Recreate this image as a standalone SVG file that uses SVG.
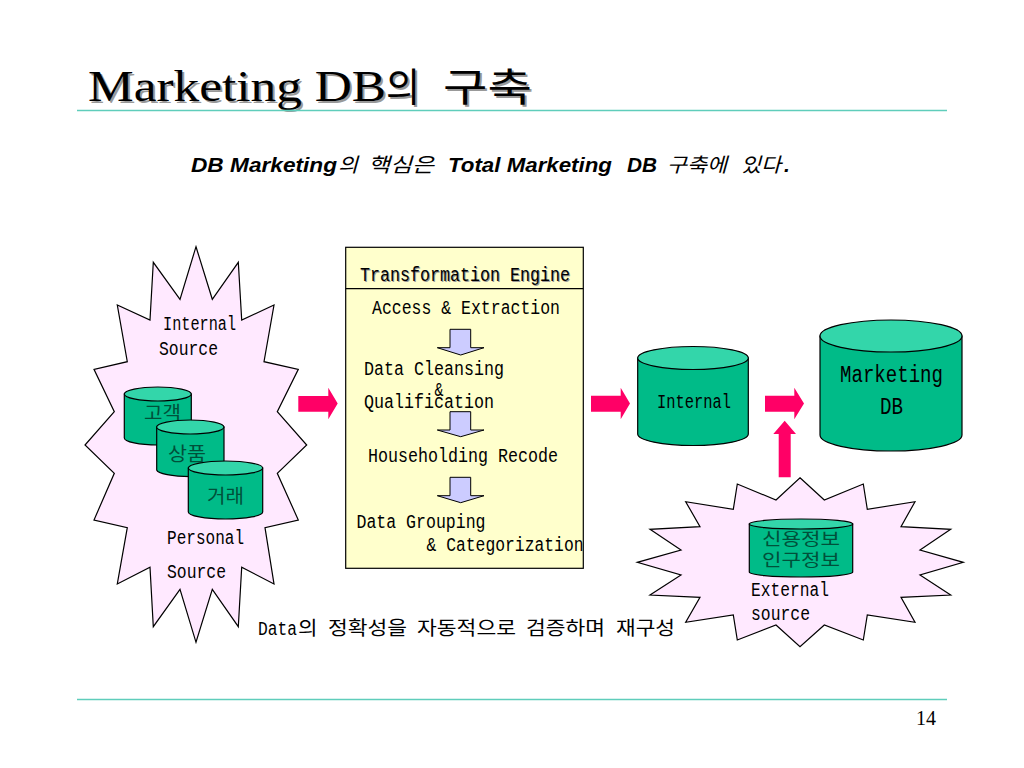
<svg xmlns="http://www.w3.org/2000/svg" width="1024" height="768" viewBox="0 0 1024 768">
<style>
.star{fill:#FFE9FF;stroke:#000;stroke-width:1.2}
.cyl{fill:#00BB88;stroke:#000;stroke-width:1.2}
.top{fill:#33D6AA;stroke:#000;stroke-width:1.2}
.pink{fill:#FF0066}
.down{fill:#CCCCFF;stroke:#000;stroke-width:1}
.rule{stroke:#5FCDBB;stroke-width:1.5}
text{font-family:"Liberation Mono","Noto Sans CJK KR",monospace;font-size:20px;fill:#000}
text.ko{font-family:"Noto Sans CJK KR",sans-serif;font-size:19px;font-weight:400}
text.lbl{font-size:23px}
.dk{fill:#00503A}
text.title{font-family:"Liberation Serif",serif;font-size:44px}
text.tko{font-family:"Noto Sans CJK KR",sans-serif;font-size:39px}
text.sub{font-family:"Liberation Sans",sans-serif;font-size:21px;font-weight:bold;font-style:italic}
text.subko{font-family:"Noto Sans CJK KR",sans-serif;font-size:20px;font-weight:400;font-style:italic}
text.sh{fill:#999}
</style>
<rect width="1024" height="768" fill="#fff"/>
<g id="title">
<text class="title sh" x="90" y="103" textLength="298" lengthAdjust="spacingAndGlyphs">Marketing DB</text>
<text class="tko sh" x="388" y="103" textLength="34" lengthAdjust="spacingAndGlyphs">의</text>
<text class="tko sh" x="445" y="103" textLength="89" lengthAdjust="spacingAndGlyphs">구축</text>
<text class="title" x="88" y="101" textLength="298" lengthAdjust="spacingAndGlyphs">Marketing DB</text>
<text class="tko" x="386" y="101" textLength="34" lengthAdjust="spacingAndGlyphs">의</text>
<text class="tko" x="443" y="101" textLength="89" lengthAdjust="spacingAndGlyphs">구축</text>
<line class="rule" x1="77" y1="110.5" x2="947" y2="110.5"/>
</g>
<g id="subtitle">
<text class="sub" x="191" y="172" textLength="146" lengthAdjust="spacingAndGlyphs">DB Marketing</text>
<text class="subko" x="338" y="172" textLength="20" lengthAdjust="spacingAndGlyphs">의</text>
<text class="subko" x="368" y="172" textLength="66" lengthAdjust="spacingAndGlyphs">핵심은</text>
<text class="sub" x="448" y="172" textLength="164" lengthAdjust="spacingAndGlyphs">Total Marketing</text>
<text class="sub" x="627" y="172" textLength="30" lengthAdjust="spacingAndGlyphs">DB</text>
<text class="subko" x="667" y="172" textLength="60" lengthAdjust="spacingAndGlyphs">구축에</text>
<text class="subko" x="741" y="172" textLength="40" lengthAdjust="spacingAndGlyphs">있다</text>
<text class="sub" x="784" y="172">.</text>
</g>
<g id="internal-source">
<polygon class="star" points="196,246.7 212.3,299.3 238.3,262.3 241.7,320 274,305 264,361.7 298.3,369.3 277.3,411.7 306.7,445 277.3,473.3 298.3,520 265,527.7 274,584 241.7,567.3 238.3,626.7 212.3,589.3 196,642.3 180,589.3 153.3,626.7 150,567.3 117.3,584 127.3,527.7 94,520 114.3,473.3 85,445 114.3,411.7 94,369.3 127.3,361.7 117.3,305 150,320 153.3,262.3 180,299.3"/>
<text x="163" y="330" textLength="73" lengthAdjust="spacingAndGlyphs">Internal</text>
<text x="159" y="355" textLength="59" lengthAdjust="spacingAndGlyphs">Source</text>
<text x="167" y="544" textLength="77" lengthAdjust="spacingAndGlyphs">Personal</text>
<text x="167" y="578" textLength="59" lengthAdjust="spacingAndGlyphs">Source</text>
</g>
<g id="cyl-customer">
<path class="cyl" d="M124.3,394V438A33.5,7 0 0 0 191.3,438V394Z"/>
<ellipse class="top" cx="157.8" cy="394" rx="33.5" ry="7"/>
<text class="ko dk" x="144" y="420" textLength="37" lengthAdjust="spacingAndGlyphs">고객</text>
</g>
<g id="cyl-product">
<path class="cyl" d="M156.7,427V470A33.7,7 0 0 0 224,470V427Z"/>
<ellipse class="top" cx="190.3" cy="427" rx="33.7" ry="7"/>
<text class="ko dk" x="168" y="461" textLength="38" lengthAdjust="spacingAndGlyphs">상품</text>
</g>
<g id="cyl-transaction">
<path class="cyl" d="M188.3,468V512A37.2,7 0 0 0 262.7,512V468Z"/>
<ellipse class="top" cx="225.5" cy="468" rx="37.2" ry="7"/>
<text class="ko dk" x="207" y="503" textLength="37" lengthAdjust="spacingAndGlyphs">거래</text>
</g>
<g id="transformation-engine">
<rect x="345.7" y="247.3" width="237.6" height="321" fill="#FFFFCC" stroke="#000" stroke-width="1.2"/>
<line x1="345.7" y1="288.7" x2="583.3" y2="288.7" stroke="#000" stroke-width="1.2"/>
<text class="sh" x="361" y="282" textLength="210" lengthAdjust="spacingAndGlyphs">Transformation Engine</text>
<text x="360" y="281" textLength="210" lengthAdjust="spacingAndGlyphs">Transformation Engine</text>
<text x="372" y="314" textLength="188" lengthAdjust="spacingAndGlyphs">Access &amp; Extraction</text>
<text x="364" y="375" textLength="140" lengthAdjust="spacingAndGlyphs">Data Cleansing</text>
<text x="434.5" y="396" textLength="9" lengthAdjust="spacingAndGlyphs">&amp;</text>
<text x="364" y="407.5" textLength="130" lengthAdjust="spacingAndGlyphs">Qualification</text>
<text x="368" y="462" textLength="190" lengthAdjust="spacingAndGlyphs">Householding Recode</text>
<text x="356.5" y="528" textLength="129" lengthAdjust="spacingAndGlyphs">Data Grouping</text>
<text x="426.5" y="551" textLength="157" lengthAdjust="spacingAndGlyphs">&amp; Categorization</text>
</g>
<g id="cyl-internal">
<path class="cyl" d="M637.7,358V434A55.3,11.5 0 0 0 748.3,434V358Z"/>
<ellipse class="top" cx="693" cy="358" rx="55.3" ry="11.5"/>
<text x="657" y="408" textLength="74" lengthAdjust="spacingAndGlyphs">Internal</text>
</g>
<g id="cyl-marketing">
<path class="cyl" d="M820,336V435A71,16 0 0 0 962,435V336Z"/>
<ellipse class="top" cx="891" cy="336" rx="71" ry="16"/>
<text class="lbl" x="840" y="382" textLength="103" lengthAdjust="spacingAndGlyphs">Marketing</text>
<text class="lbl" x="880" y="414" textLength="23" lengthAdjust="spacingAndGlyphs">DB</text>
</g>
<g id="external-source">
<polygon class="star" points="800,477.7 824.3,500 863.3,484 867.3,509.3 915,501.7 901,526.7 950.7,529.3 920,550 963.3,562.3 920,575 950.7,595 901,597.3 915,622.3 867.3,615 863.3,640 824.3,625 800,646.7 776,625 737.3,640 733.3,615 685.7,622.3 700,597.3 650,595 681,575 637.3,562.3 681,550 650,529.3 700,526.7 685.7,501.7 733.3,509.3 737.3,484 776,500"/>
<text x="751" y="596" textLength="78" lengthAdjust="spacingAndGlyphs">External</text>
<text x="751" y="620" textLength="59" lengthAdjust="spacingAndGlyphs">source</text>
</g>
<g id="cyl-external">
<path class="cyl" d="M749.3,524V572A51.7,5 0 0 0 852.7,572V524Z"/>
<ellipse class="top" cx="801" cy="524" rx="51.7" ry="5"/>
<text class="ko dk" style="font-size:17.5px" x="762" y="545" textLength="78" lengthAdjust="spacingAndGlyphs">신용정보</text>
<text class="ko dk" style="font-size:17.5px" x="762" y="566" textLength="78" lengthAdjust="spacingAndGlyphs">인구정보</text>
</g>
<g id="connectors">
<polygon class="pink" points="298.3,396 328.3,396 328.3,387.7 337.7,403.5 328.3,419.3 328.3,411.7 298.3,411.7"/>
<polygon class="pink" points="591,395.7 620.7,395.7 620.7,387.7 630,403.5 620.7,419.3 620.7,411.7 591,411.7"/>
<polygon class="pink" points="765,395.7 794.3,395.7 794.3,387.7 804,403.5 794.3,419.3 794.3,411.7 765,411.7"/>
<polygon class="pink" points="778.7,477.3 778.7,434 773.3,434 784.7,420.7 796,434 790.7,434 790.7,477.3"/>
<polygon class="down" points="450,329.3 470.7,329.3 470.7,347.7 484,347.7 460.7,355 437.3,347.7 450,347.7"/>
<polygon class="down" points="450,411.7 470.7,411.7 470.7,430 484,430 460.7,436.7 437.3,430 450,430"/>
<polygon class="down" points="450,477.3 470.7,477.3 470.7,495.7 484,495.7 460.7,502.7 437.3,495.7 450,495.7"/>
</g>
<g id="caption">
<text x="258" y="635" textLength="39" lengthAdjust="spacingAndGlyphs">Data</text>
<text class="ko" x="298" y="635" textLength="19.500" lengthAdjust="spacingAndGlyphs">의</text>
<text class="ko" x="328" y="635" textLength="79" lengthAdjust="spacingAndGlyphs">정확성을</text>
<text class="ko" x="417" y="635" textLength="99" lengthAdjust="spacingAndGlyphs">자동적으로</text>
<text class="ko" x="526" y="635" textLength="79" lengthAdjust="spacingAndGlyphs">검증하며</text>
<text class="ko" x="616" y="635" textLength="59" lengthAdjust="spacingAndGlyphs">재구성</text>
</g>
<g id="footer">
<line class="rule" x1="77" y1="699.5" x2="947" y2="699.5"/>
<text x="916" y="725" style="font-family:'Liberation Serif',serif;font-size:20px">14</text>
</g>
</svg>
